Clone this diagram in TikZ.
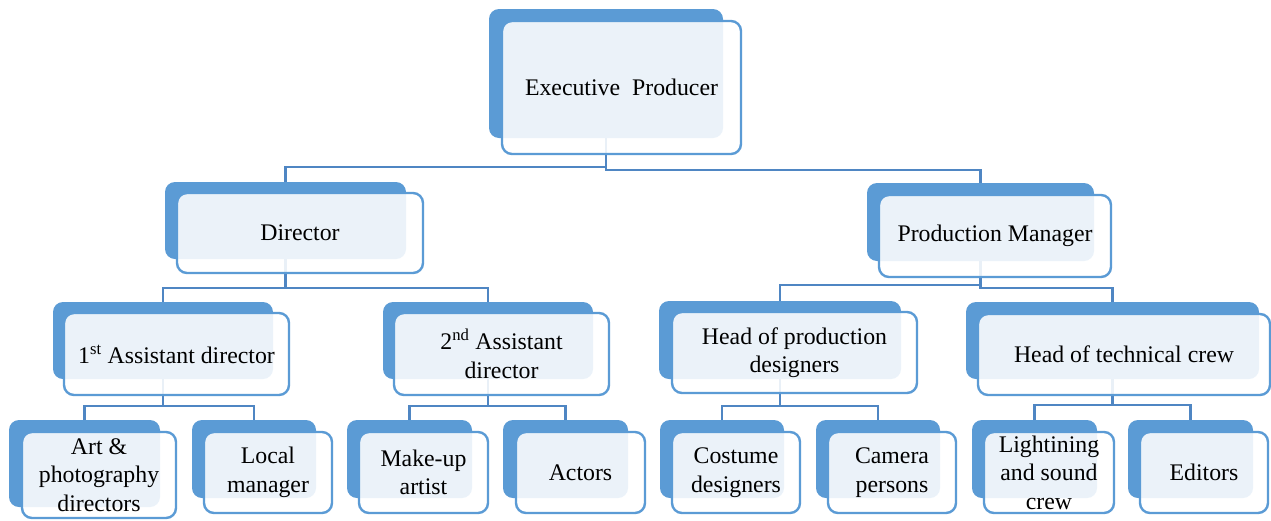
\documentclass[tikz,border=0pt]{standalone}
\usepackage{fontspec}
\setmainfont{Liberation Serif}
\definecolor{bk}{HTML}{5B9BD5}
\definecolor{ln}{HTML}{4F86C3}
\newcommand{\backrect}[5]{\node[backbox, minimum width=#4pt, minimum height=#5pt] (#1B) at (#2,#3) {};}
\newcommand{\frontrect}[6]{\node[frontbox, minimum width=#4pt, minimum height=#5pt] (#1F) at (#2,#3) {};
  \node[txt] (#1T) at (#2,#3) {#6};}
\begin{document}
\begin{tikzpicture}[x=1pt,y=-1pt,
  backbox/.style={rectangle, rounded corners=10pt, fill=bk, inner sep=0pt, outer sep=0pt},
  frontbox/.style={rectangle, rounded corners=10pt, draw=bk, line width=2.4pt, fill=white, fill opacity=0.88, inner sep=0pt, outer sep=0pt},
  txt/.style={align=center, font=\fontsize{23.8}{28.5}\selectfont, inner sep=0pt, text=black},
  conn/.style={draw=ln, line width=2.6pt}]
\useasboundingbox[fill=white] (0,0) rectangle (1271,520);
% back rectangles
\backrect{exec}{606}{73.5}{234}{129}
\backrect{dir}{285.5}{220.5}{241}{77}
\backrect{pm}{980.5}{222}{227}{78}
\backrect{aone}{163}{340.5}{220}{77}
\backrect{atwo}{488}{340.5}{210}{77}
\backrect{hp}{780}{340}{242}{78}
\backrect{ht}{1112.5}{340.5}{293}{77}
\backrect{art}{84.5}{463.5}{151}{87}
\backrect{loc}{254}{459}{124}{78}
\backrect{mk}{409.5}{459}{125}{78}
\backrect{act}{565.5}{459}{125}{78}
\backrect{cos}{722}{459}{124}{78}
\backrect{cam}{878}{459}{124}{78}
\backrect{lig}{1034.5}{459}{125}{78}
\backrect{edi}{1190.5}{459}{125}{78}
% connectors
\draw[conn] (execB.south) -- ++(0,32) -| (pmB.north);
\draw[conn] (execB.south) ++(0,29) -| (dirB.north);
\draw[conn] (dirB.south) -- ++(0,29) -| (atwoB.north);
\draw[conn] (dirB.south) ++(0,29) -| (aoneB.north);
\draw[conn] (pmB.south) -- ++(0,27) -| (htB.north);
\draw[conn] (pmB.south) ++(0,24) -| (hpB.north);
\draw[conn] (aoneB.south) -- ++(0,27) -| (locB.north);
\draw[conn] (aoneB.south) ++(0,27) -| (artB.north);
\draw[conn] (atwoB.south) -- ++(0,27) -| (actB.north);
\draw[conn] (atwoB.south) ++(0,27) -| (mkB.north);
\draw[conn] (hpB.south) -- ++(0,27) -| (camB.north);
\draw[conn] (hpB.south) ++(0,27) -| (cosB.north);
\draw[conn] (htB.south) -- ++(0,26) -| (ediB.north);
\draw[conn] (htB.south) ++(0,26) -| (ligB.north);
% front rectangles with text
\frontrect{exec}{621.5}{87.5}{239}{133}{Executive\ \ Producer}
\frontrect{dir}{300}{233}{246}{80}{Director}
\frontrect{pm}{995}{236}{232}{82}{Production Manager}
\frontrect{aone}{176.5}{354}{225}{82}{1\textsuperscript{st} Assistant director}
\frontrect{atwo}{501.5}{354}{215}{82}{2\textsuperscript{nd} Assistant\\director}
\frontrect{hp}{794.5}{352.5}{245}{81}{Head of production\\designers}
\frontrect{ht}{1124}{354.5}{292}{81}{Head of technical crew}
\frontrect{art}{99}{475}{154}{86}{Art \&\\photography\\directors}
\frontrect{loc}{268}{472.5}{128}{81}{Local\\manager}
\frontrect{mk}{423.5}{472.5}{129}{81}{Make-up\\artist}
\frontrect{act}{580.5}{472.5}{129}{81}{Actors}
\frontrect{cos}{736}{472.5}{128}{81}{Costume\\designers}
\frontrect{cam}{892}{472.5}{128}{81}{Camera\\persons}
\frontrect{lig}{1049}{472.5}{130}{81}{Lightining\\and sound\\crew}
\frontrect{edi}{1204}{472.5}{128}{81}{Editors}
\end{tikzpicture}
\end{document}
